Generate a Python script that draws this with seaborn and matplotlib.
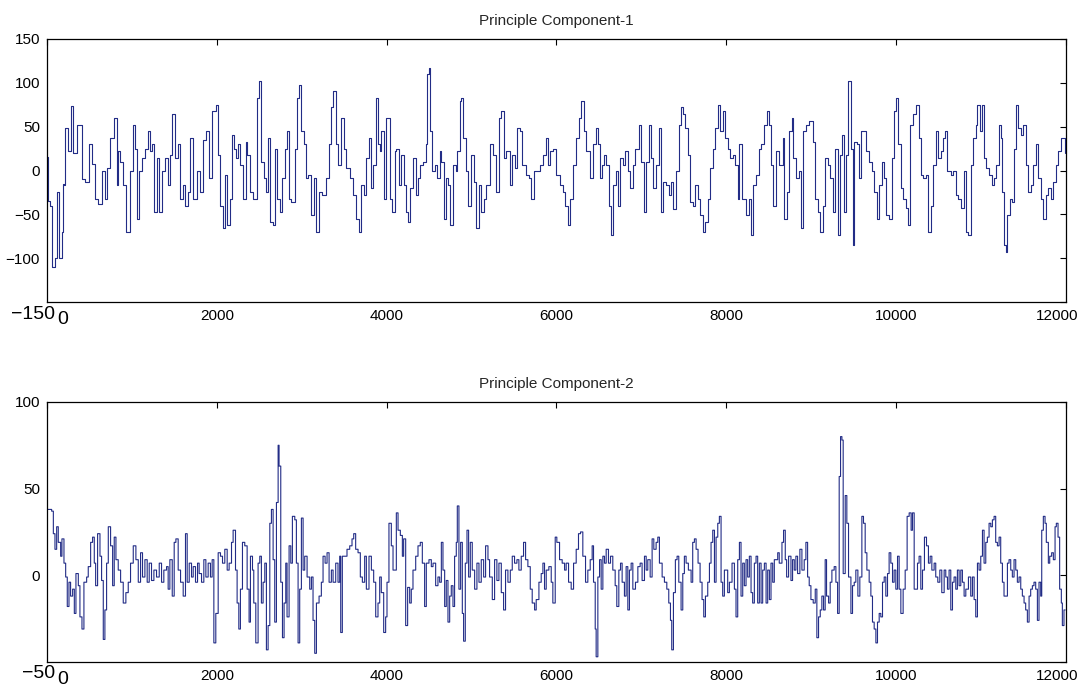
import numpy as np
import pandas as pd
import matplotlib
matplotlib.use("Agg")
import matplotlib.pyplot as plt
import matplotlib.transforms as mtransforms
import seaborn as sns

# values (sample index, component score)
pc1_sample = [0, 16, 35, 60, 94, 122, 140, 173, 190, 200, 212, 251, 278, 310, 357, 408, 447, 490, 525, 565,
              604, 643, 682, 702, 741, 792, 820, 839, 859, 898, 929, 976, 1016, 1035, 1063, 1086, 1114, 1153, 1192, 1212,
              1231, 1259, 1290, 1322, 1349, 1388, 1427, 1447, 1478, 1506, 1545, 1565, 1604, 1624, 1663, 1690, 1722, 1761, 1800, 1839,
              1878, 1910, 1949, 1988, 2016, 2035, 2067, 2094, 2125, 2153, 2184, 2204, 2231, 2255, 2278, 2310, 2341, 2361, 2388, 2427,
              2475, 2498, 2525, 2553, 2584, 2604, 2631, 2663, 2690, 2714, 2741, 2769, 2800, 2827, 2851, 2878, 2918, 2949, 2969, 2996,
              3024, 3047, 3075, 3114, 3141, 3173, 3204, 3243, 3282, 3322, 3349, 3369, 3400, 3427, 3467, 3494, 3525, 3565, 3604, 3635,
              3671, 3702, 3729, 3761, 3792, 3820, 3839, 3871, 3898, 3918, 3937, 3965, 3988, 4036, 4067, 4094, 4114, 4145, 4173, 4200,
              4232, 4251, 4279, 4310, 4342, 4369, 4396, 4428, 4459, 4479, 4498, 4514, 4538, 4565, 4593, 4624, 4643, 4675, 4702, 4722,
              4749, 4781, 4812, 4828, 4859, 4879, 4898, 4930, 4961, 4996, 5024, 5055, 5083, 5114, 5142, 5173, 5212, 5251, 5291, 5322,
              5350, 5377, 5408, 5448, 5479, 5506, 5534, 5565, 5597, 5636, 5675, 5702, 5730, 5761, 5800, 5840, 5879, 5899, 5926, 5957,
              5997, 6036, 6075, 6106, 6134, 6161, 6193, 6232, 6263, 6291, 6318, 6350, 6389, 6428, 6467, 6487, 6514, 6538, 6565, 6585,
              6616, 6644, 6663, 6695, 6722, 6750, 6781, 6812, 6840, 6867, 6899, 6930, 6969, 6997, 7028, 7056, 7087, 7114, 7142, 7173,
              7204, 7232, 7259, 7291, 7322, 7350, 7377, 7408, 7440, 7467, 7495, 7518, 7546, 7573, 7604, 7636, 7663, 7691, 7722, 7754,
              7781, 7809, 7840, 7871, 7899, 7926, 7957, 7989, 8016, 8044, 8075, 8107, 8134, 8154, 8185, 8212, 8232, 8263, 8291, 8318,
              8350, 8381, 8409, 8448, 8475, 8499, 8526, 8546, 8584, 8623, 8663, 8682, 8710, 8741, 8772, 8788, 8819, 8851, 8878, 8906,
              8937, 8976, 9015, 9047, 9074, 9102, 9133, 9164, 9192, 9219, 9251, 9282, 9310, 9337, 9361, 9388, 9408, 9427, 9447, 9467,
              9486, 9506, 9533, 9557, 9584, 9612, 9643, 9682, 9714, 9741, 9769, 9800, 9831, 9859, 9886, 9917, 9949, 9976, 9996, 10027,
              10055, 10082, 10114, 10145, 10165, 10200, 10231, 10263, 10290, 10318, 10349, 10380, 10408, 10439, 10467, 10498, 10525, 10553, 10576, 10604,
              10643, 10671, 10702, 10733, 10761, 10800, 10820, 10851, 10878, 10906, 10937, 10957, 10984, 11008, 11035, 11063, 11094, 11125, 11153, 11180,
              11212, 11231, 11251, 11270, 11290, 11310, 11337, 11369, 11388, 11416, 11439, 11467, 11494, 11525, 11557, 11584, 11612, 11643, 11675, 11702,
              11729, 11761, 11792, 11820, 11847, 11878, 11910, 11937, 11965, 11990]
pc1_value = [15, -35, -40, -110, -100, -25, -100, -70, -15, -16, 48, 22, 74, 20, 52, -10, -13, 30, 8, -32,
             -38, 0, -32, 3, 37, 60, -16, 22, 10, -16, -70, 0, 52, 25, -55, 0, 14, 24, 45, 22,
             30, -47, 14, -47, 0, 14, -16, 18, 64, 14, 30, -32, -16, -40, -24, 37, -32, 0, -24, 35,
             45, -9, 68, 75, 18, -40, -66, -5, -62, -32, 40, 25, 14, 30, 6, -32, 33, 18, -24, -32,
             83, 102, 10, -9, -24, 37, -59, -62, 25, -32, -47, -9, 25, 45, -32, -36, 25, 83, 98, 45,
             30, -9, -5, -51, -9, -70, -24, -28, -9, 30, 72, 91, 30, 6, 60, 25, 3, -9, -28, -55,
             -70, -16, -28, 14, 37, -20, 6, 83, 30, 22, 45, -32, 60, -32, -47, 22, 25, -16, 18, -16,
             -47, -59, -20, 14, -28, -9, 6, 10, 30, 110, 117, 45, 0, 6, -9, 22, 10, -55, -9, -16,
             -62, 6, 0, 22, 79, 83, 37, 0, -40, 18, -13, -66, -16, -47, -32, -16, 30, 18, -24, 60,
             68, 14, 22, -16, 18, 3, 49, 45, 6, -5, -9, -32, 0, 0, 6, 18, 37, 6, 22, 25,
             -5, -16, -24, -40, -62, -32, 6, 37, 60, 79, 45, 22, -9, 30, 49, 30, -9, 6, 18, 6,
             -40, -74, -16, 0, -40, 14, 6, 22, 0, -20, 6, 25, 52, 10, -47, 10, 52, 14, -20, 6,
             49, -47, -13, -16, -28, -13, -44, 0, 52, 72, 64, 49, 18, -36, -40, -16, -32, -51, -70, -59,
             -32, 3, 25, 49, 75, 45, 68, 37, 25, 14, 18, 6, -32, 30, -32, -32, -51, -32, -74, -16,
             -5, 25, 30, 52, 68, 52, 6, -40, 22, 6, 37, -55, -24, 45, 60, 14, -9, 0, -66, 45,
             52, 56, 33, -32, -47, -70, -40, 14, 6, -9, -47, 25, -74, 18, 40, -47, 18, 102, 102, 25,
             -85, 33, 30, -9, 45, 45, 22, 10, 0, -24, -55, -16, 10, -9, -51, -55, 14, 68, 83, 30,
             -20, -32, -43, -62, 52, 64, 75, 37, -5, -9, -5, -70, -40, 6, 45, 14, 22, 37, 45, 0,
             -5, 0, -28, -32, -43, 0, -70, -74, 6, 37, 52, 75, 45, 75, 14, 3, -5, -16, -9, 6,
             52, 37, -24, -85, -93, -51, -32, -36, 25, 75, 49, 40, 52, 6, -24, -16, 6, 30, -9, -32,
             -55, -28, -20, -32, -13, 6, 22, 37, 37, 20]

pc2_sample = [0, 16, 55, 75, 94, 114, 133, 161, 176, 200, 220, 239, 259, 278, 302, 322, 341, 369, 388, 412,
              435, 467, 486, 514, 537, 557, 573, 596, 624, 643, 663, 682, 702, 722, 749, 773, 792, 812, 839, 867,
              898, 929, 957, 984, 1016, 1047, 1075, 1102, 1125, 1153, 1180, 1204, 1231, 1259, 1290, 1322, 1349, 1376, 1408, 1427,
              1447, 1475, 1498, 1518, 1545, 1573, 1604, 1631, 1651, 1675, 1702, 1722, 1749, 1773, 1792, 1820, 1847, 1871, 1898, 1925,
              1945, 1965, 1988, 2016, 2043, 2067, 2094, 2122, 2145, 2173, 2192, 2220, 2239, 2259, 2278, 2302, 2329, 2357, 2380, 2396,
              2420, 2435, 2459, 2486, 2506, 2525, 2545, 2565, 2584, 2604, 2624, 2643, 2663, 2682, 2702, 2722, 2733, 2753, 2773, 2792,
              2812, 2827, 2851, 2871, 2890, 2918, 2937, 2957, 2976, 2996, 3016, 3035, 3063, 3094, 3114, 3133, 3153, 3173, 3204, 3231,
              3251, 3275, 3298, 3322, 3349, 3369, 3400, 3427, 3447, 3459, 3478, 3506, 3533, 3565, 3592, 3612, 3635, 3663, 3690, 3714,
              3741, 3761, 3792, 3820, 3847, 3871, 3898, 3918, 3937, 3965, 3988, 4004, 4027, 4055, 4075, 4114, 4134, 4161, 4185, 4200,
              4224, 4247, 4271, 4290, 4310, 4342, 4369, 4396, 4420, 4447, 4467, 4498, 4526, 4546, 4577, 4604, 4624, 4644, 4663, 4683,
              4702, 4722, 4742, 4761, 4781, 4800, 4820, 4832, 4851, 4871, 4891, 4906, 4926, 4946, 4965, 4985, 5008, 5036, 5063, 5087,
              5114, 5142, 5165, 5193, 5212, 5244, 5271, 5298, 5322, 5350, 5377, 5400, 5428, 5456, 5479, 5506, 5534, 5557, 5585, 5612,
              5636, 5663, 5691, 5714, 5742, 5761, 5793, 5820, 5840, 5859, 5879, 5910, 5938, 5957, 5985, 6004, 6036, 6067, 6095, 6114,
              6142, 6173, 6201, 6232, 6259, 6283, 6310, 6342, 6369, 6397, 6420, 6436, 6456, 6467, 6487, 6507, 6526, 6546, 6565, 6585,
              6612, 6636, 6663, 6691, 6710, 6734, 6754, 6773, 6800, 6820, 6840, 6859, 6879, 6899, 6930, 6958, 6985, 7008, 7036, 7056,
              7075, 7103, 7126, 7146, 7173, 7193, 7212, 7244, 7271, 7299, 7322, 7342, 7357, 7377, 7400, 7420, 7440, 7467, 7487, 7506,
              7526, 7553, 7585, 7604, 7624, 7644, 7667, 7691, 7714, 7734, 7754, 7781, 7801, 7820, 7840, 7860, 7879, 7899, 7918, 7938,
              7957, 7977, 7997, 8016, 8036, 8067, 8095, 8114, 8134, 8154, 8173, 8193, 8212, 8232, 8251, 8271, 8291, 8310, 8330, 8350,
              8369, 8389, 8409, 8428, 8448, 8468, 8487, 8507, 8526, 8546, 8565, 8605, 8623, 8655, 8674, 8694, 8710, 8733, 8761, 8780,
              8800, 8819, 8839, 8866, 8890, 8917, 8937, 8957, 8976, 8996, 9023, 9047, 9066, 9086, 9106, 9125, 9145, 9164, 9180, 9204,
              9223, 9243, 9270, 9290, 9310, 9329, 9345, 9361, 9376, 9400, 9419, 9439, 9467, 9486, 9506, 9525, 9549, 9572, 9596, 9615,
              9635, 9655, 9682, 9702, 9721, 9741, 9761, 9780, 9800, 9819, 9839, 9859, 9878, 9898, 9917, 9937, 9957, 9976, 9996, 10016,
              10035, 10055, 10082, 10106, 10129, 10153, 10176, 10192, 10212, 10231, 10251, 10270, 10290, 10310, 10333, 10357, 10380, 10400, 10420, 10447,
              10466, 10490, 10514, 10537, 10565, 10584, 10604, 10623, 10643, 10663, 10682, 10702, 10721, 10741, 10761, 10780, 10800, 10820, 10851, 10878,
              10898, 10918, 10937, 10957, 10976, 10996, 11016, 11035, 11055, 11074, 11094, 11114, 11133, 11153, 11172, 11192, 11212, 11231, 11251, 11270,
              11290, 11310, 11329, 11349, 11368, 11388, 11408, 11427, 11447, 11467, 11486, 11506, 11525, 11545, 11565, 11584, 11604, 11623, 11643, 11663,
              11682, 11702, 11714, 11733, 11753, 11768, 11792, 11808, 11831, 11851, 11871, 11886, 11906, 11925, 11945, 11957, 11976, 11990]
pc2_value = [38, 38, 37, 24, 15, 28, 19, 11, 21, 7, -1, -18, -4, -12, -8, -22, 1, -6, -24, -31,
             -4, -1, 5, 19, 22, 7, -6, 24, 11, -3, -37, -20, 7, 28, 17, -6, 22, 9, 3, -4,
             -16, -10, -4, 7, 17, 9, -4, 13, -1, 9, -4, 7, -3, 3, -1, 7, -4, 3, 5, -8,
             9, -12, 19, 21, 3, -4, -12, 24, -4, 7, -1, 5, -4, 7, 1, -4, 9, -1, 7, -1,
             9, -39, -22, 13, 11, 7, 15, 3, 7, 19, 26, 3, -16, -31, -8, 19, 17, -8, -27, 11,
             3, -16, -39, 7, 11, -16, -4, 7, -43, -29, 30, 38, 9, -27, 42, 75, 63, -4, -36, -16,
             7, -24, 17, 7, 34, 32, 7, -39, -8, 33, 3, 11, -1, -8, -1, -26, -45, -16, -12, -4,
             11, 7, 13, -4, 3, -4, 7, -4, 11, -33, 11, 11, 15, 17, 21, 24, 15, 13, -1, -4,
             11, -8, 11, 3, -4, -24, -16, -1, -10, -33, -24, -4, 30, 17, 3, 36, 26, 23, 11, 21,
             -29, -7, -16, -8, 3, 11, 17, 19, 7, -18, 7, 9, 5, 7, -6, -1, -4, 19, 3, -18,
             -3, -27, -12, -6, -18, 11, 19, 40, -8, 19, -22, -38, 7, 26, -1, 19, 3, -8, 7, -4,
             9, -1, 17, 9, -1, -14, 9, -3, 7, -10, -20, 3, -4, 3, 11, 7, 9, 3, 11, 19,
             9, 5, -8, -16, -20, -14, -4, 1, 7, -8, 3, 5, -4, -16, 22, 19, 9, 7, 3, 7,
             -4, -8, 7, 15, 24, 25, 11, -4, 3, 9, 17, -4, -31, -47, -1, 9, -8, 11, 7, 15,
             7, 11, 3, -6, -18, 3, 7, -4, -12, 5, -20, 3, 7, -8, -4, 5, 7, -3, 11, 3,
             9, -1, 21, 15, 19, 22, 7, -1, -4, -8, -16, -26, -43, -10, 9, 11, -4, -20, 1, 11,
             7, 3, -4, 19, 21, 15, 7, -4, -14, -24, -12, -4, 7, 19, 26, -4, 22, 30, 34, -4,
             -12, 3, 3, -10, -4, 7, -8, -24, 9, 19, -12, 7, -6, 9, -1, 11, -10, -16, 7, 11,
             -16, 7, -16, 3, 7, -16, 3, -14, 7, -4, 9, 13, 7, 19, 26, 9, -1, 11, -3, 9,
             3, 11, 1, 15, 3, 9, 19, -1, -6, -14, -16, -8, -36, -24, -20, -12, -20, 9, -12, -16,
             -4, 3, 5, -4, -22, 57, 80, 78, 1, 46, 30, -1, -22, -6, -4, 3, -12, -1, 34, 30,
             13, 3, -4, -12, -27, -31, -39, -27, -22, -24, -4, -1, -12, 1, 13, 7, -4, 3, -8, 11,
             -8, -22, -8, 3, 34, 36, 26, 36, -8, -8, 7, 11, -8, 3, 22, 17, 7, 11, 3, 7,
             -1, -4, 3, -10, 3, -1, -8, 3, -20, -4, -1, -8, 3, -6, 3, -4, -12, -8, -1, -12,
             -1, -14, -24, 7, 3, 11, 26, 7, 19, 22, 30, 28, 32, 34, 19, 17, 22, 7, -4, -12,
             -12, 7, 9, 3, -1, 9, 3, -4, -1, -8, -12, -16, -20, -27, -12, -8, -6, -4, -8, -26,
             -4, -12, 26, 34, 30, 19, 7, 11, 13, 9, 28, 30, 22, -8, -16, -29, -20, -20]

line_color = "#222c86"
title_font = ["Liberation Sans", "DejaVu Sans"]

df1 = pd.DataFrame({"sample": pc1_sample, "score": pc1_value})
df2 = pd.DataFrame({"sample": pc2_sample, "score": pc2_value})

sns.set_style("white")
plt.rcParams["font.family"] = title_font

fig = plt.figure(figsize=(10.85, 6.96), dpi=100)
ax1 = fig.add_axes([0.0433, 0.566, 0.9392, 0.378])
ax2 = fig.add_axes([0.0433, 0.0489, 0.9392, 0.3736])

panels = [
    (ax1, df1, "Principle Component-1", (-150, 150), [-150, -100, -50, 0, 50, 100, 150]),
    (ax2, df2, "Principle Component-2", (-50, 100), [-50, 0, 50, 100]),
]


def shift(label, dx, dy):
    # offset in pixels (figure is 100 dpi)
    label.set_transform(label.get_transform() +
                        mtransforms.ScaledTranslation(dx / 100, dy / 100, fig.dpi_scale_trans))


for ax, df, title, ylim, yticks in panels:
    sns.lineplot(data=df, x="sample", y="score", ax=ax, color=line_color,
                 linewidth=0.8, drawstyle="steps-post", estimator=None)
    ax.set_xlim(0, 12000)
    ax.set_ylim(*ylim)
    ax.set_xticks(np.arange(0, 12001, 2000))
    ax.set_yticks(yticks)
    ax.set_xlabel("")
    ax.set_ylabel("")
    ax.set_title(title, fontsize=11, pad=10)
    for side in ax.spines.values():
        side.set_color("black")
        side.set_linewidth(0.9)
    ax.tick_params(direction="in", length=4, width=0.8, top=True, right=True,
                   labelsize=11, pad=5, colors="black")

    # MATLAB-style oversized, shifted corner labels
    ylab = ax.get_yticklabels()[0]
    ylab.set_fontsize(14)
    shift(ylab, 15, -10)
    xlab = ax.get_xticklabels()[0]
    xlab.set_fontsize(14)
    shift(xlab, 16, -2)
    shift(ax.get_xticklabels()[-1], -9, 0)

fig.savefig("out.png", dpi=100, facecolor="white")
